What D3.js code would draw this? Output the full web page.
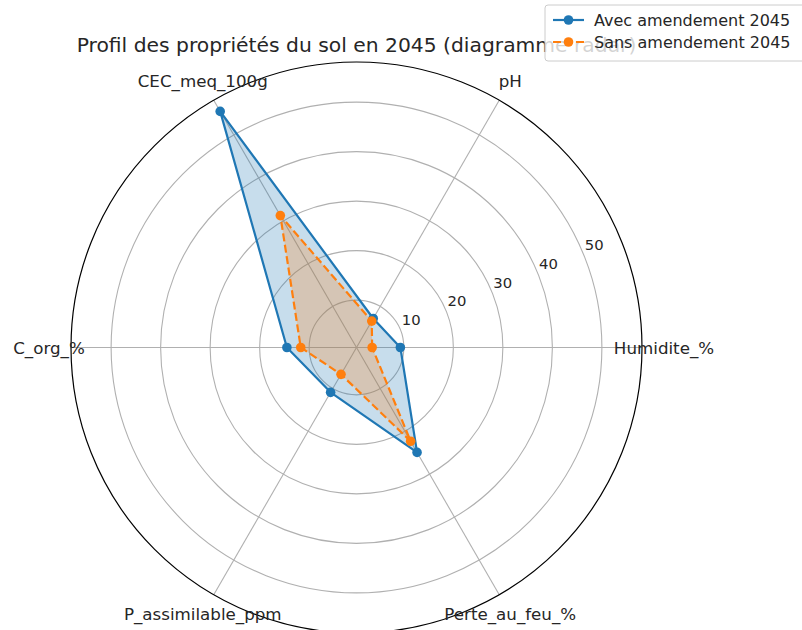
<!DOCTYPE html>
<html><head><meta charset="utf-8">
<script src="https://cdn.jsdelivr.net/npm/d3@7"></script>
<style>body{margin:0;background:#fff}svg{display:block}text{font-family:"DejaVu Sans",sans-serif;fill:#262626}</style>
</head><body><svg id="c" width="802" height="630"></svg>
<script>
const categories = ["Humidite_%","pH","CEC_meq_100g","C_org_%","P_assimilable_ppm","Perte_au_feu_%"];
const avec = [9.3, 7.2, 55.5, 14.5, 10.9, 24.9];
const sans = [3.6, 6.6, 31.2, 11.7, 6.7, 22.3];
const rTicks = [10, 20, 30, 40, 50];
const seriesNames = ["Avec amendement 2045", "Sans amendement 2045"];
const title = "Profil des propriétés du sol en 2045 (diagramme radar)";

const svg = d3.select("#c");
const cx = 356.5, cy = 347.5, R = 285.5;
const r = d3.scaleLinear().domain([0.44, 58.1]).range([0, R]);
const n = categories.length;
const theta = i => i * 2 * Math.PI / n;
const g = svg.append("g").attr("transform", `translate(${cx},${cy})`);
const px = (rad, t) => [rad * Math.cos(t), -rad * Math.sin(t)];

// grid
g.selectAll("circle.grid").data(rTicks).join("circle")
  .attr("r", d => r(d)).attr("fill", "none").attr("stroke", "#b0b0b0").attr("stroke-width", 1.1);
g.selectAll("line.spoke").data(categories).join("line")
  .attr("x1", 0).attr("y1", 0)
  .attr("x2", (d, i) => px(R, theta(i))[0]).attr("y2", (d, i) => px(R, theta(i))[1])
  .attr("stroke", "#b0b0b0").attr("stroke-width", 1.1);
g.append("circle").attr("r", R).attr("fill", "none").attr("stroke", "#000").attr("stroke-width", 1.2);

const line = d3.lineRadial().angle((d, i) => Math.PI / 2 - theta(i)).radius(d => r(d)).curve(d3.curveLinearClosed);
const colors = ["#1f77b4", "#ff7f0e"];
const series = [avec, sans];
series.forEach((vals, k) => {
  g.append("path").attr("d", line(vals)).attr("fill", colors[k]).attr("fill-opacity", 0.25).attr("stroke", "none");
  g.append("path").attr("d", line(vals)).attr("fill", "none").attr("stroke", colors[k]).attr("stroke-width", 2.2)
    .attr("stroke-dasharray", k === 1 ? "8,3.5" : null).attr("stroke-linejoin", "round");
  g.selectAll(null).data(vals).join("circle")
    .attr("cx", (d, i) => px(r(d), theta(i))[0]).attr("cy", (d, i) => px(r(d), theta(i))[1])
    .attr("r", 4.8).attr("fill", colors[k]);
});

// r tick labels
const la = 22.5 * Math.PI / 180;
g.selectAll("text.rt").data(rTicks).join("text")
  .attr("x", d => px(r(d), la)[0] + 11).attr("y", d => px(r(d), la)[1] - 9.5)
  .attr("text-anchor", "middle").attr("dominant-baseline", "central").attr("font-size", 14.8).text(d => d);

// category labels
g.selectAll("text.cat").data(categories).join("text")
  .attr("x", (d, i) => px(R + 22, theta(i))[0]).attr("y", (d, i) => px(R + 22, theta(i))[1])
  .attr("text-anchor", "middle").attr("dominant-baseline", "central").attr("font-size", 16.7).text(d => d);

// title
svg.append("text").attr("x", cx).attr("y", 52).attr("text-anchor", "middle").attr("font-size", 20.3).text(title);

// legend
const lg = svg.append("g");
lg.append("rect").attr("x", 545).attr("y", 5).attr("width", 262).attr("height", 56).attr("rx", 3)
  .attr("fill", "#fff").attr("fill-opacity", 0.8).attr("stroke", "#cccccc");
seriesNames.forEach((s, k) => {
  const y = 20 + k * 22;
  lg.append("line").attr("x1", 553).attr("x2", 584).attr("y1", y).attr("y2", y).attr("stroke", colors[k])
    .attr("stroke-width", 2.2).attr("stroke-dasharray", k === 1 ? "8,3.5" : null);
  lg.append("circle").attr("cx", 568.5).attr("cy", y).attr("r", 4.8).attr("fill", colors[k]);
  lg.append("text").attr("x", 594).attr("y", y).attr("dominant-baseline", "central").attr("font-size", 16).text(s);
});
</script></body></html>
